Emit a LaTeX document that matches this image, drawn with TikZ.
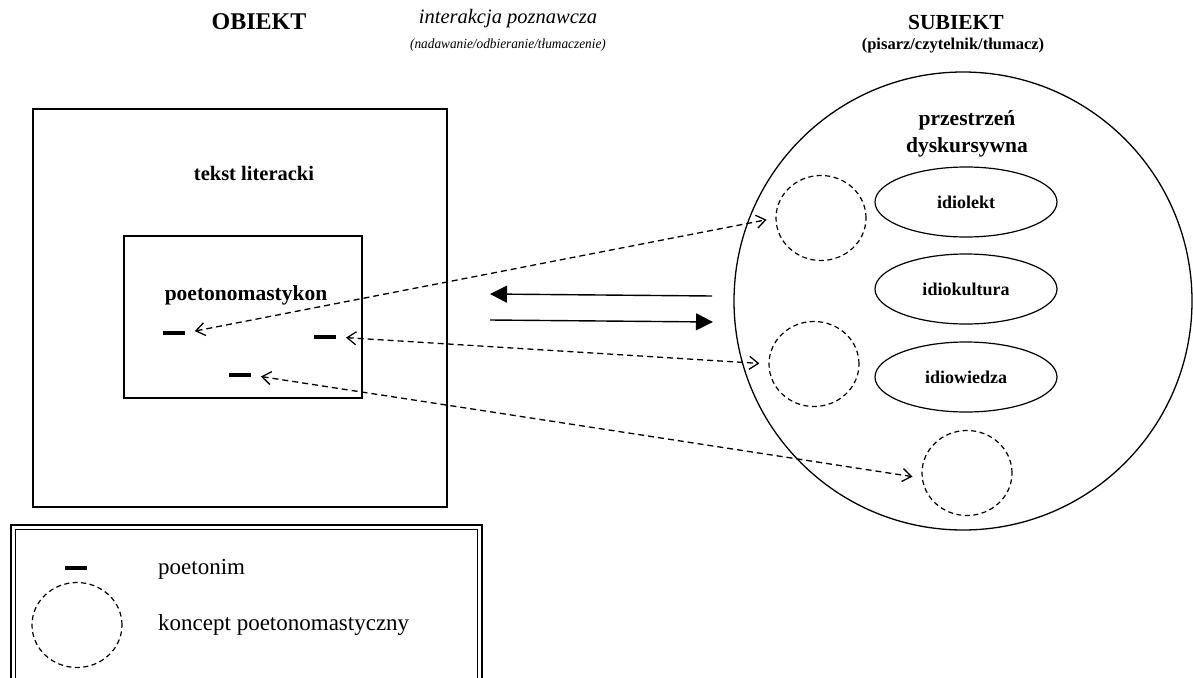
\documentclass[tikz,border=0pt]{standalone}
\usepackage{fontspec}
\setmainfont{Liberation Serif}
\usetikzlibrary{arrows.meta,shapes.geometric}
\tikzset{
  title/.style={font=\fontsize{24}{28}\selectfont\bfseries, inner sep=0pt},
  stitle/.style={font=\fontsize{21.5}{25}\selectfont\bfseries, inner sep=0pt},
  ititle/.style={font=\fontsize{20.5}{24}\selectfont\itshape, inner sep=0pt},
  sub/.style={font=\fontsize{14}{16}\selectfont\itshape, inner sep=0pt},
  bsub/.style={font=\fontsize{16.5}{19}\selectfont\bfseries, inner sep=0pt},
  lbl/.style={font=\fontsize{21.5}{24}\selectfont\bfseries, inner sep=0pt, align=center},
  ellab/.style={draw, ellipse, line width=1.2pt, minimum width=182pt, minimum height=70pt, inner sep=0pt, font=\fontsize{18}{21}\selectfont\bfseries},
  concept/.style={draw, ellipse, dash pattern=on 5pt off 3.5pt, line width=1.2pt, minimum width=90pt, minimum height=85pt, inner sep=0pt},
  poetonym/.style={fill=black, minimum width=22pt, minimum height=4pt, inner sep=0pt, outer sep=0pt},
  dasharrow/.style={dash pattern=on 6pt off 4pt, line width=1.3pt, {Straight Barb[length=9pt,width=13pt]}-{Straight Barb[length=9pt,width=13pt]}, shorten <=10pt, shorten >=9pt},
  solidarrow/.style={line width=1.4pt, -{Triangle[length=17pt,width=17pt]}},
  frame/.style={draw, line width=1.4pt},
  legtext/.style={font=\fontsize{23}{26}\selectfont, inner sep=0pt, anchor=west}
}
\begin{document}
\begin{tikzpicture}[x=1pt,y=-1pt]
\useasboundingbox (0,0) rectangle (1193,677);
% titles
\node[title] (obiekt) at (259,22) {OBIEKT};
\node[ititle] (inter) at (508,19) {interakcja poznawcza};
\node[sub] (nad) at (508,45) {\scalebox{0.95}[1]{(nadawanie/odbieranie/tłumaczenie)}};
\node[stitle] (subiekt) at (956,22) {SUBIEKT};
\node[bsub] (pis) at (953,46) {(pisarz/czytelnik/tłumacz)};
% object side
\draw[frame] (33,109) rectangle (447,507);
\node[font=\fontsize{20.5}{24}\selectfont\bfseries, inner sep=0pt] (tekst) at (254,173) {tekst literacki};
\draw[frame] (124,236) rectangle (362,398);
\node[lbl] (poeto) at (246,295) {poetonomastykon};
\node[poetonym] (d1) at (174,333) {};
\node[poetonym] (d2) at (325,337) {};
\node[poetonym] (d3) at (240,375) {};
% subject side
\node[draw, circle, line width=1.3pt, minimum size=458pt, inner sep=0pt] (big) at (963,301) {};
\node[lbl] (przes) at (967,134) {przestrzeń\\[3pt]dyskursywna};
\node[ellab] (e1) at (966,202) {idiolekt};
\node[ellab] (e2) at (966,289) {idiokultura};
\node[ellab] (e3) at (966,377) {idiowiedza};
\node[concept] (c1) at (821,218) {};
\node[concept] (c2) at (814,364) {};
\node[concept] (c3) at (967,473) {};
% interaction arrows
\coordinate (a1s) at (712,296);
\coordinate (a1e) at (490,294);
\coordinate (a2s) at (490,320);
\coordinate (a2e) at (713,322);
\draw[solidarrow] (a1s) -- (a1e);
\draw[solidarrow] (a2s) -- (a2e);
% dashed links
\draw[dasharrow] (d1.east) -- (c1.west);
\draw[dasharrow] (d2.east) -- (c2.west);
\draw[dasharrow] (d3.east) -- ([yshift=-5pt]c3.west);
% legend
\draw[line width=1.8pt] (11,525) rectangle (482,690);
\draw[line width=0.8pt] (15.5,529.5) rectangle (477.5,685.5);
\node[poetonym] (ld) at (76,568) {};
\node[concept] (lc) at (77,625) {};
\node[legtext] (lt1) at (158,569) {poetonim};
\node[legtext] (lt2) at (158,625) {koncept poetonomastyczny};
\end{tikzpicture}
\end{document}
